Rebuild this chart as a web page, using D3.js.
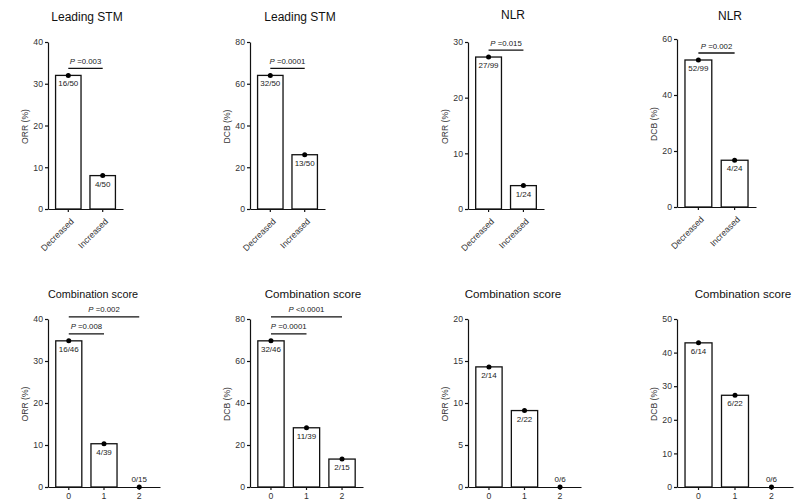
<!DOCTYPE html>
<html>
<head>
<meta charset="utf-8">
<script src="https://cdn.jsdelivr.net/npm/d3@7"></script>
<style>
  body { margin: 0; background: #fff; }
  svg { display: block; font-family: "Liberation Sans", Arial, Helvetica, sans-serif; }
</style>
</head>
<body>
<svg id="chart" width="800" height="502"></svg>
<script>
// chart values, one entry per panel (top row left->right, then bottom row)
const titles = ['Leading STM', 'Leading STM', 'NLR', 'NLR',
  'Combination score', 'Combination score', 'Combination score', 'Combination score']
const yLabels = ['ORR (%)', 'DCB (%)', 'ORR (%)', 'DCB (%)', 'ORR (%)', 'DCB (%)', 'ORR (%)', 'DCB (%)']
const groupsTop = ['Decreased', 'Increased']
const groupsBottom = ['0', '1', '2']
const values = [
  [32, 8], [64, 26], [27.3, 4.2], [52.5, 16.7],
  [34.8, 10.3, 0], [69.6, 28.2, 13.3], [14.3, 9.1, 0], [42.9, 27.3, 0]
]
const counts = [
  ['16/50', '4/50'], ['32/50', '13/50'], ['27/99', '1/24'], ['52/99', '4/24'],
  ['16/46', '4/39', '0/15'], ['32/46', '11/39', '2/15'], ['2/14', '2/22', '0/6'], ['6/14', '6/22', '0/6']
]
const yMax = [40, 80, 30, 60, 40, 80, 20, 50]
const yStep = [10, 20, 10, 20, 10, 20, 5, 10]
// comparisons: [group a, group b, p text]
const pValues = [
  [[0, 1, '=0.003']], [[0, 1, '=0.0001']], [[0, 1, '=0.015']], [[0, 1, '=0.002']],
  [[0, 1, '=0.008'], [0, 2, '=0.002']], [[0, 1, '=0.0001'], [0, 2, '<0.0001']], [], []
]

// layout of each panel: axis x, plot top / bottom, x axis length, title x
const layout = [
  {x: 48, top: 42, bottom: 209, w: 75, tx: 87, ty: 21, ts: 12},
  {x: 250, top: 42, bottom: 209, w: 75, tx: 300, ty: 21, ts: 12},
  {x: 468, top: 42, bottom: 209, w: 76, tx: 513, ty: 19, ts: 12},
  {x: 677, top: 39, bottom: 207, w: 79, tx: 730, ty: 20, ts: 12},
  {x: 48, top: 319, bottom: 487, w: 112, tx: 93, ty: 298, ts: 10.8},
  {x: 250, top: 319, bottom: 487, w: 113, tx: 313, ty: 298, ts: 11.6},
  {x: 468, top: 319, bottom: 487, w: 113, tx: 513, ty: 298, ts: 11.6},
  {x: 677, top: 319, bottom: 487, w: 116, tx: 743, ty: 298, ts: 11.6}
]

const svg = d3.select('#chart')

titles.forEach((title, i) => {
  const L = layout[i]
  const groups = values[i].length === 2 ? groupsTop : groupsBottom
  const data = values[i].map((v, k) => ({g: groups[k], v: v, c: counts[i][k]}))

  const x = d3.scaleBand()
      .domain(groups)
      .range([L.x, L.x + L.w])
      .paddingInner(0.26)
      .paddingOuter(0.22)
  const y = d3.scaleLinear()
      .domain([0, yMax[i]])
      .range([L.bottom, L.top])

  const g = svg.append('g').attr('class', 'panel')

  // title
  g.append('text')
      .attr('x', L.tx)
      .attr('y', L.ty)
      .attr('text-anchor', 'middle')
      .style('font-size', L.ts + 'px')
      .attr('fill', '#111')
      .text(title)

  // bars
  g.selectAll('rect.bar')
    .data(data.filter(d => d.v > 0))
    .join('rect')
      .attr('class', 'bar')
      .attr('x', d => x(d.g))
      .attr('y', d => y(d.v))
      .attr('width', x.bandwidth())
      .attr('height', d => y(0) - y(d.v))
      .attr('fill', '#fff')
      .attr('stroke', '#111')
      .attr('stroke-width', 1.3)

  // y axis
  g.append('g')
      .attr('transform', `translate(${L.x},0)`)
      .call(d3.axisLeft(y)
        .tickValues(d3.range(0, yMax[i] + yStep[i] / 2, yStep[i]))
        .tickSize(3).tickSizeOuter(0).tickPadding(2))
      .call(a => a.selectAll('path,line').attr('stroke', '#111').attr('stroke-width', 1.2))
      .call(a => a.selectAll('text').attr('fill', '#333').style('font-size', '8.7px')
        .style('font-family', 'inherit'))

  // x axis
  const xa = g.append('g')
      .attr('transform', `translate(0,${L.bottom})`)
      .call(d3.axisBottom(x).tickSize(3).tickSizeOuter(0).tickPadding(3))
      .call(a => a.selectAll('path,line').attr('stroke', '#111').attr('stroke-width', 1.2))
      .call(a => a.selectAll('text').attr('fill', '#333').style('font-size', '8.7px')
        .style('font-family', 'inherit'))
  if (groups === groupsTop) {
    xa.selectAll('text')
        .attr('text-anchor', 'end')
        .attr('dy', null)
        .attr('y', null)
        .attr('transform', 'translate(6,13) rotate(-45)')
  }

  // y axis label
  g.append('text')
      .attr('transform', `translate(${L.x - 20},${(L.top + L.bottom) / 2 + 1}) rotate(-90)`)
      .attr('text-anchor', 'middle')
      .attr('fill', '#333')
      .style('font-size', '8.6px')
      .text(yLabels[i])

  // dots
  g.selectAll('circle')
    .data(data)
    .join('circle')
      .attr('cx', d => x(d.g) + x.bandwidth() / 2)
      .attr('cy', d => y(d.v))
      .attr('r', 2.5)
      .attr('fill', '#000')

  // n/N labels
  g.selectAll('text.count')
    .data(data)
    .join('text')
      .attr('class', 'count')
      .attr('x', d => x(d.g) + x.bandwidth() / 2)
      .attr('y', d => d.v > 0 ? y(d.v) + 11 : y(d.v) - 5)
      .attr('text-anchor', 'middle')
      .attr('fill', '#222')
      .style('font-size', '8px')
      .text(d => d.c)

  // significance lines
  const topY = y(d3.max(values[i]))
  pValues[i].forEach(([a, b, p], k) => {
    const ly = topY - 7 - k * 17
    const x1 = x(groups[a]) + x.bandwidth() / 2
    const x2 = x(groups[b]) + x.bandwidth() / 2
    g.append('line')
        .attr('x1', x1).attr('x2', x2)
        .attr('y1', ly).attr('y2', ly)
        .attr('stroke', '#111')
        .attr('stroke-width', 1.3)
    const t = g.append('text')
        .attr('x', (x1 + x2) / 2)
        .attr('y', ly - 4.5)
        .attr('text-anchor', 'middle')
        .attr('fill', '#222')
        .style('font-size', '7.8px')
    t.append('tspan').style('font-style', 'italic').text('P')
    t.append('tspan').text(' ' + p)
  })
})
</script>
</body>
</html>
